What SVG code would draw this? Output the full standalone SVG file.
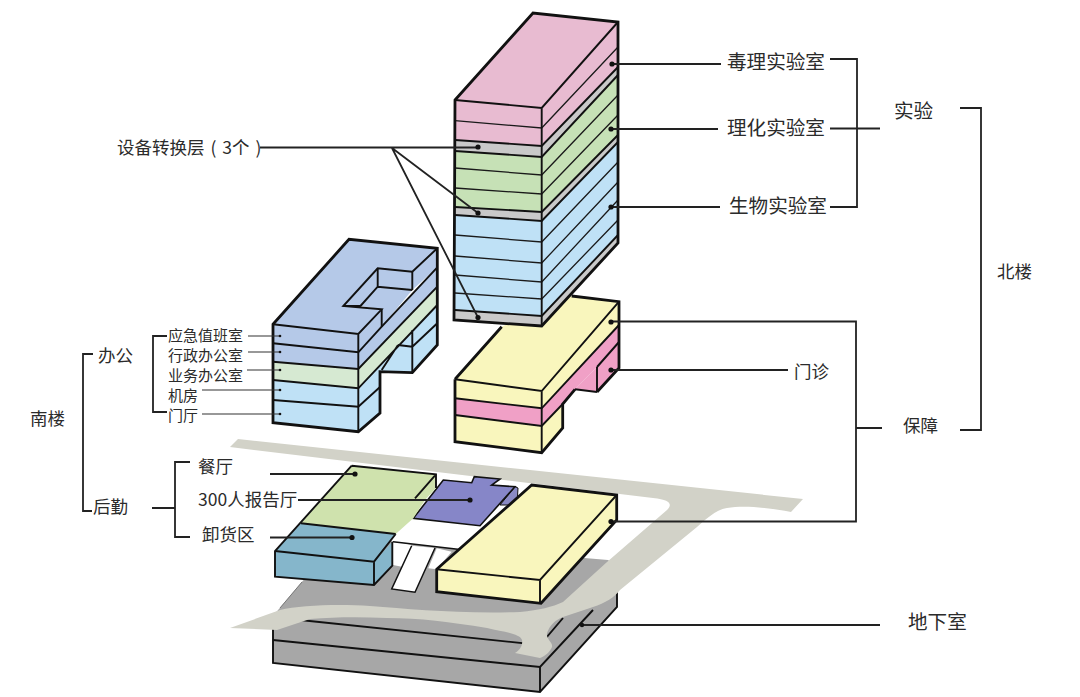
<svg xmlns="http://www.w3.org/2000/svg" width="1080" height="697" viewBox="0 0 1080 697">
<style>
text{font-family:"Noto Sans CJK SC","Noto Sans",sans-serif;fill:#2b2b2b;font-size:17.5px}
.l20{font-size:19.6px}.s15{font-size:15px}
.o{stroke:#111;stroke-width:2.8;stroke-linejoin:miter}
.i{stroke:#1a1a1a;stroke-width:1.3;fill:none}
.m{stroke:#111;stroke-width:1.9;fill:none;stroke-linejoin:miter}
.c{stroke:#222;stroke-width:1.8;fill:none}
.t{stroke:#333;stroke-width:1.1;fill:none}
.d{fill:#111}
.pk{fill:#e8bbd1}.gy{fill:#c9c9c9}.gn{fill:#c6e1b6}.bl{fill:#bfe1f6}.ob{fill:#b5c9e8}.lg{fill:#d6e9d2}.ye{fill:#f9f6bd}.hp{fill:#f0a0c6}
.none{fill:none}
</style>
<rect width="1080" height="697" fill="#fff"/>

<g id="basement">
<polygon points="273,616 340,537 608,560 617,566 617,607 540,692 273,663" fill="#a7a7a7"/>
<path stroke="#777" stroke-width="1" fill="none" d="M280 608L302 582"/>
<path class="m" d="M273 628V663L540 692L617 607V590M540 667V692"/>
<path class="m" d="M273 640L540 667L593 610M300 620L540 645L563 618"/>
</g>

<g id="road">
<path fill="#d2d2c8" d="M230 447L238 439L530 470L803 499L791 512C770 508 745 505 727 508C715 510 705 520 697 527L620 590C615 597 605 603 593 607L563 617C555 620 550 625 547 633C546 640 553 642 552 647C550 652 545 656 540 658L515 653C520 650 523 645 522 640C520 634 505 632 487 628C450 622 420 618 387 618C360 617 335 617 310 619L277 630L230 628L280 610C300 605 340 604 370 606C410 609 460 614 520 612C540 610 552 607 563 602L607 562L667 510C672 505 672 500 653 498Z"/>
</g>

<g id="ground-floor">
<polygon points="393,541.700 413.300,518.300 480,525.700 500,505 510,507 473,551" fill="#fff"/>
<polygon points="393,541 393,565 403,567 412,545" fill="#fff"/>
<polygon points="436.700,548.300 428.300,568.300 436.700,569.300 451.700,551.700" fill="#fff"/>
<polygon points="411.700,545.700 391.700,589 415,592.300 435,548" fill="#fff"/>
<path stroke="#111" stroke-width="1.500" fill="none" d="M411.700 545.700L391.700 589L415 592.300L435 548M393 541.700L473 551M473 551L510 507"/>
<polygon points="500,505 515,486.700 518,488 517,505" fill="#8a8ac4" stroke="#111" stroke-width="1"/>
<polygon points="413.300,518.300 443.300,480 471.700,482.700 474.300,476.700 500,479 491.700,485 515,486.700 480,525.700" fill="#8686c8" stroke="#111" stroke-width="1.600"/>
<polygon points="351.700,465.700 436,474.300 436,488 425,500 413.300,518.300 395.700,534 301,523.300" fill="#cfe2ad"/>
<polygon points="301,523.300 395.700,534 374,561.700 275,551" fill="#85b6cb"/>
<polygon points="275,551 374,561.700 374,585 274,576.700" fill="#85b6cb"/>
<polygon points="374,561.700 392.300,541.700 392.300,565.700 374,585" fill="#85b6cb"/>
<path class="m" d="M301 523.300L395.700 534M275 551L374 561.700L395.700 534M374 561.700V585"/>
<path class="m" stroke-width="2" d="M415 498.300L436 474.300M351.700 465.700L436 474.300V488M351.700 465.700L275 551V576.700L374 585L392.300 565.700V541.700"/>
</g>

<g id="ground-yellow">
<polygon points="531.700,485 616.700,495 540,580 436.700,569.300" class="ye"/>
<polygon points="436.700,569.300 540,580 541,603.300 436.700,591.700" class="ye"/>
<polygon points="540,580 616.700,495 616.700,520 541,603.300" class="ye"/>
<path class="m" d="M436.700 569.300L540 580L616.700 495M540 580V603.300"/>
<path class="o none" d="M436.700 569.300L531.700 485L616.700 495V520L541 603.300L436.700 591.700Z"/>
</g>

<g id="north-yellow">
<polygon points="455,379.300 501.700,326.700 571.700,296 619,301.700 541.700,391" class="ye"/>
<polygon points="455,379.300 541.700,391 541.700,408.300 455,398.300" class="ye"/>
<polygon points="455,398.300 541.700,408.300 541.700,426 455,415" class="hp"/>
<polygon points="455,415 541.700,426 541.700,452.700 455,441.700" class="ye"/>
<polygon points="541.700,391 619,301.700 619,325 541.700,408.300" class="ye"/>
<polygon points="541.700,408.300 619,325 619,368 597,392 597,367 575,389.300 562.700,404 541.700,426" class="hp"/>
<polygon points="541.700,426 562.700,404 562.700,428 541.700,452.700" class="ye"/>
<polygon points="575,389.300 597,367 597,392" class="hp"/>
<path class="m" d="M455 398.300L541.700 408.300L619 325M455 415L541.700 426L562.700 404M597 367L619 342M575 389.300L597 392M597 367V392"/>
<path class="m" d="M455 379.300L541.700 391L619 301.700M541.700 391V452.700"/>
<path class="o none" d="M455 379.300L501.700 326.700M571.700 296L619 301.700V368L597 392M575 389.300L562.700 404V428L541.700 452.700L455 441.700V379.300"/>
</g>

<g id="north-tower">
<polygon points="455.700,100 533,13 618,22 541.700,108" class="pk"/>
<polygon points="455,100 541.700,108 541.700,146 455,140" class="pk"/>
<polygon points="455,140 541.700,146 541.700,157 455,151" class="gy"/>
<polygon points="455,151 541.700,157 541.700,212 455,207" class="gn"/>
<polygon points="455,207 541.700,212 541.700,221 455,215" class="gy"/>
<polygon points="455,215 541.700,221 541.700,316 455,310" class="bl"/>
<polygon points="455,310 541.700,316 541.700,326 454,320" class="gy"/>
<polygon points="541.700,108 618,22 618,67 541.700,146" class="pk"/>
<polygon points="541.700,146 618,67 618,75 541.700,157" class="gy"/>
<polygon points="541.700,157 618,75 618,135 541.700,212" class="gn"/>
<polygon points="541.700,212 618,135 618,142 541.700,221" class="gy"/>
<polygon points="541.700,221 618,142 618,235 541.700,316" class="bl"/>
<polygon points="541.700,316 618,235 618,243 541.700,326" class="gy"/>
<path class="i" d="M455 120.700L541.700 128L618 47M455 168L541.700 175L618 95M455 188L541.700 194L618 115M455 235L541.700 242L618 162M455 256L541.700 263L618 182M455 275L541.700 282L618 200M455 293L541.700 299L618 220"/>
<path class="m" d="M455 140L541.700 146L618 67M455 151L541.700 157L618 75M455 207L541.700 212L618 135M455 215L541.700 221L618 142M455 310L541.700 316L618 235"/>
<path class="m" stroke-width="2.200" d="M455 100L541.700 108L618 22M541.700 108V326"/>
<path class="o none" d="M455 100L533 13L618 22V243L541.700 326L454 320Z"/>
</g>

<g id="south-office">
<polygon points="273.300,324.300 349,239.300 437.300,248.300 412.300,271.700 377.700,268.300 343.300,306 381.700,309.300 358.300,334" class="ob"/>
<polygon points="377.700,268.300 412.300,271.700 412.300,290 377.700,286.700" class="ob"/>
<polygon points="343.300,306 377.700,268.300 377.700,286.700 360,306.500" class="ob"/>
<polygon points="360,306 377.700,286.700 412.300,290 381.700,326.700 381.700,309.300" class="ob"/>
<polygon points="412.300,271.700 437.300,248.300 437.300,267.300 412.300,290" class="ob"/>
<polygon points="358.300,334 381.700,309.300 381.700,326.700 437.300,267.300 437.300,286.700 358.300,369" class="ob"/>
<polygon points="358.300,369 437.300,286.700 437.300,305 358.300,388.300" class="lg"/>
<polygon points="358.300,388.300 437.300,305 437.300,345 412.300,372.700 380,371.700 380,413 358.300,431.700" class="bl"/>
<polygon points="273,324.300 358.300,334 358.300,352.300 273,343.300" class="ob"/>
<polygon points="273,343.300 358.300,352.300 358.300,369 273,361.700" class="ob"/>
<polygon points="273,361.700 358.300,369 358.300,388.300 273,380" class="lg"/>
<polygon points="273,380 358.300,388.300 358.300,406.700 273,400" class="bl"/>
<polygon points="273,400 358.300,406.700 358.300,431.700 273,422.700" class="bl"/>
<path class="m" d="M273 343.300L358.300 352.300L381.700 326.700L437.300 267.300M273 361.700L358.300 369L437.300 286.700M273 380L358.300 388.300L437.300 305M273 400L358.300 406.700L380 387M412.300 346.700L437.300 323.300M398 345L412.300 346.700M412.300 330V372.700M381.700 370L398 345"/>
<path class="m" d="M343.300 306L360 306M360 306.500L377.700 286.700L412.300 290M377.700 268.300V286.700M412.300 271.700V290M381.700 309.300V326.700"/>
<path class="m" stroke-width="2" d="M273 324.300L358.300 334L381.700 309.300L343.300 306L377.700 268.300L412.300 271.700L437.300 248.300M358.300 334V431.700"/>
<path class="o none" d="M273 324.300L349 239.300L437.300 248.300V345L412.300 372.700L380 371.700V413L358.300 431.700L273 422.700Z"/>
</g>

<g id="connectors">
<path class="c" d="M612 64H721M612 129H718M611 207H720"/>
<path class="c" d="M830 59H857V207H830M830 128.500H880"/>
<path class="c" d="M960 108H981V430H960"/>
<path class="c" d="M611 321.500H856V521.500H611M856 428H882M611 370H788"/>
<path class="c" d="M582 625H880"/>
<path class="c" d="M260 147.500H478M392 148L478 213M392 148L478 317.500"/>
<path class="c" d="M93 354H83V511H92M167 336H153V412H167M152 508H175M190 462H175V537H190"/>
<path class="t" d="M248 336H280M248 352H280M247 370H280M202 390H280M202 414H280"/>
<path class="c" d="M270 474H355M298 500H470M270 537.500H352"/>
<g class="d">
<circle cx="612" cy="64" r="2.600"/><circle cx="611" cy="129" r="2.600"/><circle cx="611" cy="207" r="2.600"/>
<circle cx="611" cy="322" r="2.600"/><circle cx="611" cy="370" r="2.600"/><circle cx="611" cy="521.500" r="2.600"/>
<circle cx="582" cy="625" r="2.200"/>
<circle cx="478" cy="147" r="2.600"/><circle cx="478" cy="213" r="2.600"/><circle cx="478" cy="317.500" r="2.600"/>
<circle cx="280" cy="336" r="1.300"/><circle cx="280" cy="352" r="1.300"/><circle cx="280" cy="370" r="1.300"/><circle cx="280" cy="390" r="1.300"/><circle cx="280" cy="414" r="1.300"/>
<circle cx="355" cy="474" r="2.600"/><circle cx="470" cy="500" r="2.600"/><circle cx="352" cy="537.500" r="2.600"/>
</g>
</g>

<g id="labels">
<text class="l20" x="727" y="69">毒理实验室</text>
<text class="l20" x="727" y="135">理化实验室</text>
<text class="l20" x="729" y="213">生物实验室</text>
<text class="l20" x="894" y="118">实验</text>
<text x="997" y="277.500">北楼</text>
<text x="903" y="431.500">保障</text>
<text x="794" y="377.500">门诊</text>
<text class="l20" x="908" y="629">地下室</text>
<text x="117" y="153.500" word-spacing="2">设备转换层 ( 3个 )</text>
<text x="30" y="425">南楼</text>
<text x="98" y="362">办公</text>
<text x="93" y="513">后勤</text>
<text class="s15" x="168" y="341">应急值班室</text>
<text class="s15" x="168" y="361">行政办公室</text>
<text class="s15" x="168" y="381">业务办公室</text>
<text class="s15" x="168" y="401">机房</text>
<text class="s15" x="168" y="421">门厅</text>
<text x="198" y="473">餐厅</text>
<text x="198" y="506">300人报告厅</text>
<text x="202" y="541">卸货区</text>
</g>
</svg>
